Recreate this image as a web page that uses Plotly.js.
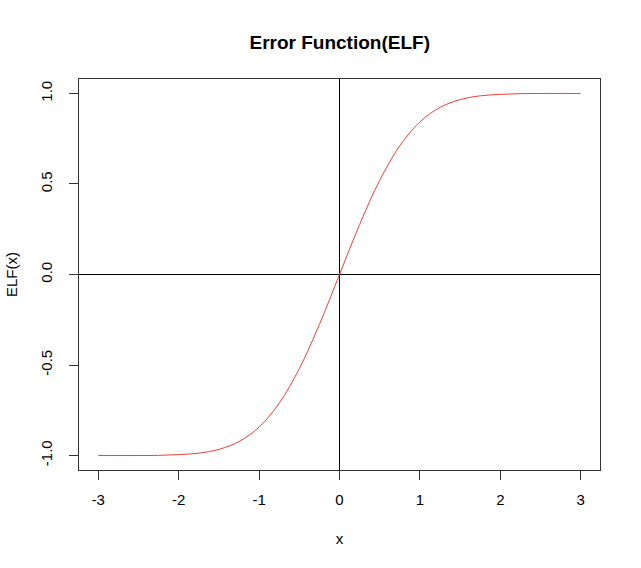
<!DOCTYPE html>
<html>
<head>
<meta charset="utf-8">
<script src="https://cdn.plot.ly/plotly-3.0.1.min.js"></script>
<style>html,body{margin:0;padding:0;background:#fff}#chart{width:641px;height:568px}</style>
</head>
<body>
<div id="chart"></div>
<script>
var xValues = [-3, -2.5, -2.25, -2, -1.75, -1.5, -1.25, -1, -0.75, -0.5, -0.25, 0, 0.25, 0.5, 0.75, 1, 1.25, 1.5, 1.75, 2, 2.25, 2.5, 3];
var elfValues = [-1.000, -1.000, -0.999, -0.995, -0.987, -0.966, -0.923, -0.843, -0.711, -0.520, -0.276, 0, 0.276, 0.520, 0.711, 0.843, 0.923, 0.966, 0.987, 0.995, 0.999, 1.000, 1.000];
var xTicks = [-3, -2, -1, 0, 1, 2, 3];
var yTicks = [-1.0, -0.5, 0.0, 0.5, 1.0];
var yTickLabels = ["-1.0", "-0.5", "0.0", "0.5", "1.0"];

var trace = {
  x: xValues, y: elfValues, type: 'scatter', mode: 'lines',
  line: {color: '#e8413a', width: 1, shape: 'spline', smoothing: 1},
  hoverinfo: 'skip'
};
var font = {family: 'Liberation Sans, Arial, sans-serif', size: 15, color: '#000'};
var layout = {
  width: 641, height: 568,
  margin: {l: 79, r: 41, t: 79, b: 98},
  paper_bgcolor: '#fff', plot_bgcolor: '#fff',
  font: font,
  showlegend: false,
  title: {text: '<b>Error Function(ELF)</b>', font: {family: 'Liberation Sans, Arial, sans-serif', size: 19, color: '#000'}, x: 0.53, xanchor: 'center', y: 0.926, yanchor: 'middle'},
  xaxis: {
    range: [-3.24, 3.24], tickvals: xTicks, ticktext: xTicks.map(String),
    ticks: 'outside', ticklen: 9, tickcolor: '#333', tickwidth: 1, ticklabelstandoff: 7,
    showline: true, linecolor: '#333', linewidth: 1, mirror: true,
    showgrid: false, zeroline: true, zerolinecolor: '#000', zerolinewidth: 1,
    title: {text: 'x', font: font, standoff: 26},
    tickfont: font
  },
  yaxis: {
    range: [-1.08, 1.08], tickvals: yTicks, ticktext: yTickLabels,
    ticks: 'outside', ticklen: 9, tickcolor: '#333', tickwidth: 1, tickangle: -90, ticklabelstandoff: 11,
    showline: true, linecolor: '#333', linewidth: 1, mirror: true,
    showgrid: false, zeroline: true, zerolinecolor: '#000', zerolinewidth: 1,
    title: {text: 'ELF(x)', font: font, standoff: 16},
    tickfont: font
  }
};
Plotly.newPlot('chart', [trace], layout, {staticPlot: true, displayModeBar: false});
</script>
</body>
</html>
